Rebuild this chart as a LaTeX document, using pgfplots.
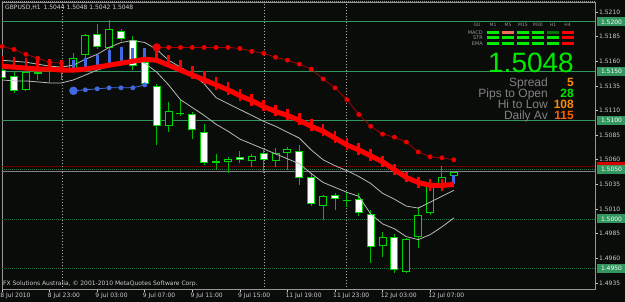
\documentclass[border=0pt]{standalone}
\usepackage{pgfplots}
\pgfplotsset{compat=1.18}
\usepackage{pgfplotstable}
\usepackage{fontspec}
\setmainfont{DejaVu Sans}
\newfontfamily\arialf{Liberation Sans}
\newcommand\sm{\fontsize{6}{7}\selectfont}

\definecolor{bg}{RGB}{10,12,10}
\definecolor{candle}{RGB}{0,215,0}
\definecolor{wick}{RGB}{0,185,0}
\definecolor{hline}{RGB}{52,150,95}
\definecolor{hlinedk}{RGB}{38,110,68}
\definecolor{maline}{RGB}{185,185,185}
\definecolor{sarred}{RGB}{235,0,0}
\definecolor{sarline}{RGB}{165,0,0}
\definecolor{askred}{RGB}{125,0,0}
\definecolor{sarblue}{RGB}{65,105,225}
\definecolor{txt}{RGB}{205,205,205}
\definecolor{axgrey}{RGB}{150,150,150}
\definecolor{sepgrey}{RGB}{175,175,175}
\definecolor{bidgrey}{RGB}{125,130,140}
\definecolor{lime}{RGB}{0,235,0}
\definecolor{salmon}{RGB}{240,110,90}
\definecolor{dgreen}{RGB}{0,120,0}
\definecolor{orng}{RGB}{255,140,0}
\definecolor{orngred}{RGB}{255,95,0}
\definecolor{labgrey}{RGB}{130,130,130}
\definecolor{smallgrey}{RGB}{150,150,150}

% i open high low close
\pgfplotstableread{
i o h l c
0 1.5151 1.5153 1.5141 1.5143
1 1.5145 1.5149 1.5128 1.5130
2 1.5131 1.5150 1.5130 1.5149
3 1.5148 1.5155 1.5141 1.5149
4 1.5149 1.5158 1.5139 1.5151
5 1.5149 1.5161 1.5141 1.5151
6 1.5152 1.5168 1.5151 1.5163
7 1.5166 1.5188 1.5163 1.5187
8 1.5188 1.5198 1.5172 1.5174
9 1.5173 1.5202 1.5169 1.5193
10 1.5191 1.5193 1.5181 1.5183
11 1.5182 1.5186 1.5151 1.5155
12 1.5159 1.5163 1.5135 1.5137
13 1.5135 1.5137 1.5075 1.5094
14 1.5094 1.5119 1.5088 1.5109
15 1.5107 1.5121 1.5104 1.5107
16 1.5106 1.5109 1.5081 1.5090
17 1.5088 1.5096 1.5055 1.5057
18 1.5058 1.5066 1.5050 1.5058
19 1.5058 1.5063 1.5047 1.5061
20 1.5063 1.5069 1.5057 1.5060
21 1.5059 1.5066 1.5053 1.5064
22 1.5067 1.5070 1.5047 1.5060
23 1.5059 1.5072 1.5053 1.5067
24 1.5067 1.5073 1.5050 1.5071
25 1.5069 1.5075 1.5034 1.5042
26 1.5043 1.5047 1.5013 1.5015
27 1.5013 1.5024 1.4999 1.5023
28 1.5024 1.5026 1.5009 1.5020
29 1.5019 1.5027 1.5012 1.5019
30 1.5020 1.5026 1.5003 1.5006
31 1.5005 1.5009 1.4955 1.4972
32 1.4973 1.4987 1.4961 1.4982
33 1.4982 1.4985 1.4945 1.4948
34 1.4946 1.4981 1.4945 1.4980
35 1.4982 1.5012 1.4970 1.5004
36 1.5006 1.5040 1.5004 1.5036
37 1.5036 1.5054 1.5029 1.5043
38 1.5044 1.5048 1.5042 1.5048
}\ohlc

% stop line: value, red tick up/down, blue bar up
\pgfplotstableread{
i v rp rm bp
0 1.5155 0.0010 0 0
1 1.5154 0.0010 0 0
2 1.5153 0.0010 0 0
3 1.5152 0.0010 0 0
4 1.5152 0.0010 0 0
5 1.5151 0.0010 0 0
6 1.5151 0 0 0.0010
7 1.5152 0 0 0.0011
8 1.5154 0 0 0.0012
9 1.5156 0 0 0.0015
10 1.5158 0 0 0.0016
11 1.5160 0 0 0.0013
12 1.5162 0 0 0.0011
13 1.5161 0.0009 0 0
14 1.5156 0.0010 0.0002 0
15 1.5151 0.0010 0.0002 0
16 1.5146 0.0009 0.0004 0
17 1.5141 0.0009 0.0004 0
18 1.5136 0.0008 0.0005 0
19 1.5131 0.0008 0.0005 0
20 1.5125 0.0007 0.0005 0
21 1.5120 0.0007 0.0005 0
22 1.5114 0.0007 0.0005 0
23 1.5109 0.0007 0.0005 0
24 1.5105 0.0007 0.0005 0
25 1.5100 0.0007 0.0005 0
26 1.5094 0.0007 0.0005 0
27 1.5089 0.0007 0.0005 0
28 1.5082 0.0007 0.0005 0
29 1.5075 0.0007 0.0005 0
30 1.5070 0.0007 0.0005 0
31 1.5064 0.0007 0.0005 0
32 1.5058 0.0006 0.0005 0
33 1.5050 0.0006 0.0005 0
34 1.5042 0.0006 0.0005 0
35 1.5037 0.0006 0.0006 0
36 1.5034 0.0006 0.0006 0
37 1.5034 0.0006 0.0006 0
38 1.5035 0 0 0.0010
}\stopline

% trailing stop dots
\pgfplotstableread{
i v
0 1.5175
1 1.5172
2 1.5167
3 1.5163
4 1.5159
5 1.5158
6 1.5130
7 1.5131
8 1.5132
9 1.5133
10 1.5133
11 1.5133
12 1.5136
13 1.5174
14 1.5174
15 1.5174
16 1.5174
17 1.5174
18 1.5174
19 1.5174
20 1.5173
21 1.5170
22 1.5168
23 1.5164
24 1.5161
25 1.5157
26 1.5152
27 1.5142
28 1.5133
29 1.5121
30 1.5106
31 1.5094
32 1.5086
33 1.5083
34 1.5078
35 1.5068
36 1.5063
37 1.5062
38 1.5060
}\sar

% two moving averages
\pgfplotstableread{
i u lo
0 1.5161 1.5141
1 1.5160 1.5140
2 1.5159 1.5140
3 1.5157 1.5139
4 1.5155 1.5138
5 1.5154 1.5138
6 1.5156 1.5141
7 1.5162 1.5146
8 1.5167 1.5151
9 1.5174 1.5155
10 1.5179 1.5159
11 1.5181 1.5161
12 1.5179 1.5158
13 1.5172 1.5149
14 1.5161 1.5136
15 1.5154 1.5121
16 1.5147 1.5113
17 1.5137 1.5105
18 1.5123 1.5096
19 1.5117 1.5089
20 1.5111 1.5081
21 1.5105 1.5076
22 1.5099 1.5071
23 1.5094 1.5066
24 1.5088 1.5061
25 1.5082 1.5056
26 1.5070 1.5046
27 1.5060 1.5037
28 1.5054 1.5032
29 1.5049 1.5027
30 1.5043 1.5023
31 1.5036 1.5005
32 1.5026 1.4995
33 1.5020 1.4990
34 1.5013 1.4982
35 1.5011 1.4979
36 1.5017 1.4984
37 1.5023 1.4992
38 1.5029 1.5001
}\ma

\begin{document}
\begin{tikzpicture}
\path[use as bounding box] (0,0) rectangle (625pt,302pt);
\fill[bg] (0,0) rectangle (625pt,302pt);
\begin{axis}[
  at={(2pt,13pt)}, anchor=south west,
  scale only axis, width=593pt, height=287pt,
  xmin=-0.01, xmax=49.87, ymin=1.49289, ymax=1.52201,
  axis line style={draw=axgrey, line width=0.8pt},
  tick align=outside, major tick length=3pt,
  tick style={color=txt, line width=0.6pt},
  minor tick num=0,
  xtick={0,4,8,12,16,20,24,28,32,36},
  xticklabels={8 Jul 2010,8 Jul 23:00,9 Jul 03:00,9 Jul 07:00,9 Jul 11:00,9 Jul 15:00,11 Jul 19:00,11 Jul 23:00,12 Jul 03:00,12 Jul 07:00},
  xtick pos=bottom,
  xticklabel style={anchor=north west, xshift=-3pt, font=\sm, text=txt, inner sep=1pt},
  ytick={1.4935,1.4960,1.4985,1.5010,1.5035,1.5060,1.5085,1.5110,1.5135,1.5160,1.5185,1.5210},
  ytick pos=right, yticklabel pos=right,
  scaled y ticks=false,
  yticklabel style={anchor=west, font=\sm, text=txt, inner sep=1pt, xshift=0pt,
    /pgf/number format/.cd, fixed, fixed zerofill, precision=4, assume math mode=true},
  clip=true,
]
% horizontal user lines
\addplot[hline, line width=0.8pt, forget plot] coordinates {(-1,1.5200) (51,1.5200)};
\addplot[hline, line width=0.8pt, forget plot] coordinates {(-1,1.5150) (51,1.5150)};
\addplot[hline, line width=0.8pt, forget plot] coordinates {(-1,1.5100) (51,1.5100)};
\addplot[hlinedk, line width=0.8pt, dash pattern=on 1pt off 1pt, forget plot] coordinates {(-1,1.5050) (51,1.5050)};
\addplot[hlinedk, line width=0.8pt, dash pattern=on 1pt off 1pt, forget plot] coordinates {(-1,1.5000) (51,1.5000)};
\addplot[hlinedk, line width=0.8pt, dash pattern=on 1pt off 1pt, forget plot] coordinates {(-1,1.4950) (51,1.4950)};
% ask and bid
\addplot[askred, line width=0.9pt, dash pattern=on 1pt off 1pt, forget plot] coordinates {(-1,1.5053) (51,1.5053)};
\addplot[bidgrey, line width=0.7pt, forget plot] coordinates {(-1,1.5048) (51,1.5048)};
% day separators
\addplot[sepgrey, line width=0.9pt, dash pattern=on 1.5pt off 1.5pt, forget plot] coordinates {(5.04,1.49) (5.04,1.53)};
\addplot[sepgrey, line width=0.9pt, dash pattern=on 1.5pt off 1.5pt, forget plot] coordinates {(22.03,1.49) (22.03,1.53)};
\addplot[sepgrey, line width=0.9pt, dash pattern=on 1.5pt off 1.5pt, forget plot] coordinates {(29.0,1.49) (29.0,1.53)};

% candle wicks
\addplot[draw=none, mark=none, forget plot,
  error bars/.cd, y dir=both, y explicit, error mark=none,
  error bar style={line width=1pt, draw=wick}]
  table[x=i, y expr={(\thisrow{h}+\thisrow{l})/2}, y error expr={(\thisrow{h}-\thisrow{l})/2}] {\ohlc};
% candle bodies: outline
\addplot[draw=none, mark=none, forget plot,
  error bars/.cd, y dir=both, y explicit, error mark=none,
  error bar style={line width=8pt, draw=candle}]
  table[x=i, y expr={(\thisrow{o}+\thisrow{c})/2}, y error expr={max(abs(\thisrow{o}-\thisrow{c})/2,0.00005)}] {\ohlc};
% bull fill (black)
\addplot[draw=none, mark=none, forget plot,
  error bars/.cd, y dir=both, y explicit, error mark=none,
  error bar style={line width=6pt, draw=bg}]
  table[x=i, y expr={(\thisrow{o}+\thisrow{c})/2}, y error expr={max(abs(\thisrow{o}-\thisrow{c})/2-0.0001,0)}] {\ohlc};
% bear fill (white)
\addplot[draw=none, mark=none, forget plot,
  error bars/.cd, y dir=both, y explicit, error mark=none,
  error bar style={line width=6pt, draw=white}]
  table[x=i, y expr={(\thisrow{o}+\thisrow{c})/2}, y error expr={max((\thisrow{o}-\thisrow{c})/2-0.0001,0)}] {\ohlc};

% moving averages
\addplot[maline, line width=0.8pt, forget plot] table[x=i, y=u] {\ma};
\addplot[maline, line width=0.8pt, forget plot] table[x=i, y=lo] {\ma};

% stop line with ticks
\addplot[draw=none, mark=none, forget plot,
  error bars/.cd, y dir=both, y explicit, error mark=none,
  error bar style={line width=2.6pt, draw=red}]
  table[x=i, y=v, y error plus=rp, y error minus=rm] {\stopline};
\addplot[draw=none, mark=none, forget plot,
  error bars/.cd, y dir=plus, y explicit, error mark=none,
  error bar style={line width=3pt, draw=sarblue}]
  table[x=i, y=v, y error plus=bp] {\stopline};
\addplot[red, line width=5pt, line join=round, mark=none, forget plot] table[x=i, y=v] {\stopline};

% trailing stop dots
\addplot[sarline, line width=0.8pt, mark=*, mark size=2pt, mark options={fill=sarred, draw=sarred}, restrict x to domain=0:5, forget plot] table[x=i, y=v] {\sar};
\addplot[sarblue, line width=0.8pt, mark=*, mark size=2pt, mark options={fill=sarblue, draw=sarblue}, restrict x to domain=6:12, forget plot] table[x=i, y=v] {\sar};
\addplot[sarline, line width=0.8pt, mark=*, mark size=2pt, mark options={fill=sarred, draw=sarred}, restrict x to domain=13:38, forget plot] table[x=i, y=v] {\sar};
\addplot[only marks, mark=*, mark size=4pt, sarblue, mark options={fill=sarblue, draw=sarblue}, restrict x to domain=6:6, forget plot] table[x=i, y=v] {\sar};
\addplot[only marks, mark=*, mark size=4pt, sarred, mark options={fill=sarred, draw=sarred}, restrict x to domain=13:13, forget plot] table[x=i, y=v] {\sar};
\end{axis}

\begin{scope}[shift={(0pt,302pt)}, x=1pt, y=-1pt]
% top border dotted
\draw[axgrey, line width=0.9pt, dash pattern=on 1pt off 1pt] (2,1.5) -- (595,1.5);
% header and copyright
\node[anchor=base west, inner sep=0, text=txt, font=\sm] at (5,10) {GBPUSD,H1\enspace 1.5044 1.5048 1.5042 1.5048};
\node[anchor=base west, inner sep=0, text=txt, font=\sm] at (3,286) {FX Solutions Australia, \textcopyright{} 2001-2010 MetaQuotes Software Corp.};
% price boxes on the scale
\fill[red!85!black] (597,162.2) rectangle (626,171.2);
\foreach \yy/\lab in {21.9/1.5200,71.1/1.5150,120.4/1.5100,169.7/1.5050,219.0/1.5000,268.2/1.4950}{
  \fill[hline] (597,\yy-4.5) rectangle (626,\yy+4.5);
  \node[inner sep=0, text=white, font=\sm] at (611.5,\yy) {\lab};
}
% signal grid
\node[inner sep=0, text=smallgrey, font=\fontsize{4.5}{5}\selectfont] at (477,25) {GU};
\foreach \cx/\lab in {493/M1,508/M5,523/M15,538/M30,553/H1,567.5/H4}{
  \node[inner sep=0, text=smallgrey, font=\fontsize{4.5}{5}\selectfont] at (\cx,25) {\lab};
}
\node[anchor=east, inner sep=0, text=smallgrey, font=\fontsize{5}{6}\selectfont] at (483,32.3) {MACD};
\node[anchor=east, inner sep=0, text=smallgrey, font=\fontsize{5}{6}\selectfont] at (483,37.7) {STR};
\node[anchor=east, inner sep=0, text=smallgrey, font=\fontsize{5}{6}\selectfont] at (483,43.3) {EMA};
\foreach \cx/\col in {487/lime,502/salmon,517/lime,532/lime,547/dgreen,562/red}{
  \fill[\col] (\cx,30.7) rectangle ++(11.5,3.3);
}
\foreach \cx/\col in {487/lime,502/lime,517/lime,532/lime,547/lime,562/red}{
  \fill[\col] (\cx,36.1) rectangle ++(11.5,3.3);
  \fill[\col] (\cx,41.7) rectangle ++(11.5,3.3);
}
% big price
\node[anchor=base east, inner sep=0, text=lime, font=\arialf\fontsize{28}{30}\selectfont] at (574,72.5) {1.5048};
% stats
\node[anchor=base east, inner sep=0, text=labgrey, font=\arialf\fontsize{12}{13}\selectfont] at (548,87) {Spread};
\node[anchor=base east, inner sep=0, text=labgrey, font=\arialf\fontsize{12}{13}\selectfont] at (548,98) {Pips to Open};
\node[anchor=base east, inner sep=0, text=labgrey, font=\arialf\fontsize{12}{13}\selectfont] at (548,109) {Hi to Low};
\node[anchor=base east, inner sep=0, text=labgrey, font=\arialf\fontsize{12}{13}\selectfont] at (548,120) {Daily Av};
\node[anchor=base east, inner sep=0, text=orng, font=\arialf\bfseries\fontsize{12}{13}\selectfont] at (574,87) {5};
\node[anchor=base east, inner sep=0, text=lime, font=\arialf\bfseries\fontsize{12}{13}\selectfont] at (574,98) {28};
\node[anchor=base east, inner sep=0, text=orng, font=\arialf\bfseries\fontsize{12}{13}\selectfont] at (574,109) {108};
\node[anchor=base east, inner sep=0, text=orngred, font=\arialf\bfseries\fontsize{12}{13}\selectfont] at (574,120) {115};
\end{scope}
\end{tikzpicture}
\end{document}
